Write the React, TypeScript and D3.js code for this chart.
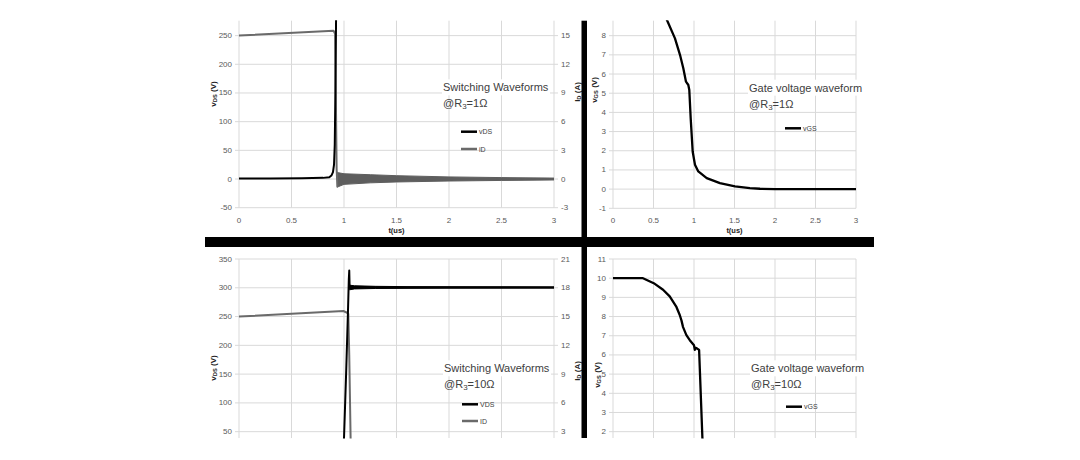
import * as d3 from 'd3';

// shared time axis (us)
const timeTicks = [0, 0.5, 1, 1.5, 2, 2.5, 3];

// top left: switching waveforms @ Rg = 1 ohm
const vdsTicks1 = [-50, 0, 50, 100, 150, 200, 250];
const idTicks1 = [-3, 0, 3, 6, 9, 12, 15];
const vds1Time = [0, 0.3, 0.6, 0.8, 0.86, 0.88, 0.895, 0.905, 0.912, 0.918, 0.925, 0.93, 3];
const vds1Volt = [1, 1, 1.2, 2, 3, 6, 12, 25, 60, 150, 290, 300, 300];
const id1Time = [0, 0.9, 0.915, 0.922, 0.93, 0.937];
const id1Amp = [15, 15.52, 15.2, 9, 1, -0.8];
const ring1Time = [0.937, 0.95, 1.0, 1.25, 1.5, 2, 2.5, 3];
const ring1Upper = [0.7, 0.65, 0.55, 0.45, 0.35, 0.22, 0.15, 0.1];
const ring1Lower = [-0.8, -0.78, -0.56, -0.4, -0.31, -0.21, -0.15, -0.1];

// top right: gate voltage @ Rg = 1 ohm
const vgsTicks1 = [-1, 0, 1, 2, 3, 4, 5, 6, 7, 8];
const vgs1Time = [0.6, 0.67, 0.765, 0.827, 0.868, 0.901, 0.93, 0.942, 0.959, 0.984, 1.012, 1.053, 1.157, 1.32, 1.506, 1.69, 1.815, 2.0, 2.5, 3];
const vgs1Volt = [9.4, 8.78, 7.86, 7.0, 6.3, 5.6, 5.43, 5.17, 3.7, 1.95, 1.27, 0.92, 0.57, 0.31, 0.14, 0.05, 0.02, 0, 0, 0];

// bottom left: switching waveforms @ Rg = 10 ohm
const vdsTicks2 = [50, 100, 150, 200, 250, 300, 350];
const idTicks2 = [3, 6, 9, 12, 15, 18, 21];
const vds2Time = [0, 0.9, 0.97, 1.0, 1.02, 1.038, 1.046, 1.05, 1.053, 1.06, 1.5, 3];
const vds2Volt = [2, 4, 15, 38, 150, 260, 315, 330, 305, 301, 300.5, 300.5];
const ring2Time = [1.053, 1.1, 1.3, 1.6, 2, 3];
const ring2Upper = [304.5, 303.5, 302.5, 302, 301.8, 301.5];
const ring2Lower = [296.5, 298, 298.8, 299.2, 299.4, 299.6];
const id2Time = [0, 0.994, 1.03, 1.041, 1.05, 1.063, 1.07, 3];
const id2Amp = [15, 15.58, 15.4, 15.27, 11, 2.3, 0, 0];

// bottom right: gate voltage @ Rg = 10 ohm
const vgsTicks2 = [2, 3, 4, 5, 6, 7, 8, 9, 10, 11];
const vgs2Time = [0, 0.37, 0.503, 0.618, 0.7, 0.783, 0.824, 0.845, 0.865, 0.906, 0.948, 1.0, 1.01, 1.02, 1.04, 1.063, 1.104, 1.2];
const vgs2Volt = [10, 10, 9.74, 9.4, 9.05, 8.5, 8.08, 7.8, 7.45, 7.03, 6.77, 6.5, 6.27, 6.37, 6.33, 6.26, 1.64, 0.5];

const zip = (t: number[], v: number[]): [number, number][] => t.map((x, i) => [x, v[i]]);

const FONT = "'Liberation Sans', Arial, sans-serif";
const GRID = '#d9d9d9';
const TICK = '#595959';

type Box = { x0: number; x1: number; y0: number; y1: number };
type Line = { pts: [number, number][]; right?: boolean; color: string; width: number };
type Band = { t: number[]; hi: number[]; lo: number[]; right?: boolean; color: string };
type Title = { main: string; sub: string; rest: string; x: number; y: number };
type Legend = { label: string; color: string; x: number; y: number };

function SubText({ main, sub, rest, x, y, size, weight, color }: any) {
  return (
    <text
      x={x}
      y={y}
      fontSize={size}
      fontWeight={weight}
      fill={color}
      textAnchor="middle"
      dominantBaseline="central"
      transform={`rotate(-90 ${x} ${y})`}
    >
      <tspan>{main}</tspan>
      <tspan dy={size * 0.3} fontSize={size * 0.72}>{sub}</tspan>
      <tspan dy={-size * 0.3}>{rest}</tspan>
    </text>
  );
}

function Panel(props: {
  id: string;
  box: Box;
  leftDomain: [number, number];
  leftTicks: number[];
  rightDomain?: [number, number];
  rightTicks?: number[];
  showX: boolean;
  leftTitle: Title;
  rightTitle?: Title;
  lines: Line[];
  bands?: Band[];
  legend: Legend[];
}) {
  const { box, leftTicks, rightTicks } = props;
  const x = d3.scaleLinear().domain([0, 3]).range([box.x0, box.x1]);
  const yl = d3.scaleLinear().domain(props.leftDomain).range([box.y1, box.y0]);
  const yr = props.rightDomain ? d3.scaleLinear().domain(props.rightDomain).range([box.y1, box.y0]) : yl;
  const ext = rightTicks ? 4 : 0;

  return (
    <g>
      <defs>
        <clipPath id={props.id}>
          <rect x={box.x0} y={box.y0 - 0.5} width={box.x1 - box.x0} height={box.y1 - box.y0 + 1} />
        </clipPath>
      </defs>
      {/* grid */}
      {leftTicks.map((t) => (
        <line key={'h' + t} x1={box.x0 - 4} x2={box.x1 + ext} y1={yl(t)} y2={yl(t)} stroke={GRID} strokeWidth={1} />
      ))}
      {timeTicks.map((t) => (
        <line key={'v' + t} x1={x(t)} x2={x(t)} y1={box.y0} y2={box.y1} stroke={GRID} strokeWidth={1} />
      ))}
      {/* tick labels */}
      {leftTicks.map((t) => (
        <text key={'l' + t} x={box.x0 - 7} y={yl(t)} fontSize={8} fill={TICK} textAnchor="end" dominantBaseline="central">
          {t}
        </text>
      ))}
      {rightTicks &&
        rightTicks.map((t) => (
          <text key={'r' + t} x={box.x1 + 7} y={yr(t)} fontSize={8} fill={TICK} dominantBaseline="central">
            {t}
          </text>
        ))}
      {props.showX &&
        timeTicks.map((t) => (
          <text key={'x' + t} x={x(t)} y={box.y1 + 12.5} fontSize={8} fill={TICK} textAnchor="middle" dominantBaseline="central">
            {t}
          </text>
        ))}
      {props.showX && (
        <text x={(box.x0 + box.x1) / 2} y={box.y1 + 22.5} fontSize={7.5} fontWeight="bold" fill="#222" textAnchor="middle" dominantBaseline="central">
          t(us)
        </text>
      )}
      <SubText {...props.leftTitle} size={8} weight="bold" color="#222" />
      {props.rightTitle && <SubText {...props.rightTitle} size={8} weight="bold" color="#222" />}
      {/* data */}
      <g clipPath={`url(#${props.id})`}>
        {(props.bands || []).map((b, i) => {
          const ys = b.right ? yr : yl;
          const area = d3
            .area<number>()
            .x((_, j) => x(b.t[j]))
            .y0((_, j) => ys(b.lo[j]))
            .y1((_, j) => ys(b.hi[j]));
          return <path key={'b' + i} d={area(b.t) || ''} fill={b.color} stroke={b.color} strokeWidth={1} />;
        })}
        {props.lines.map((l, i) => {
          const ys = l.right ? yr : yl;
          const line = d3
            .line<[number, number]>()
            .x((d) => x(d[0]))
            .y((d) => ys(d[1]));
          return (
            <path key={'s' + i} d={line(l.pts) || ''} fill="none" stroke={l.color} strokeWidth={l.width} strokeLinejoin="round" strokeLinecap="round" />
          );
        })}
      </g>
      {/* legend */}
      {props.legend.map((e) => (
        <g key={e.label}>
          <line x1={e.x} x2={e.x + 16} y1={e.y} y2={e.y} stroke={e.color} strokeWidth={2.5} />
          <text x={e.x + 18} y={e.y} fontSize={7} fill="#404040" dominantBaseline="central">
            {e.label}
          </text>
        </g>
      ))}
    </g>
  );
}

// the text box written on top of each plot
function Note({ x, y, heading, rg, w }: { x: number; y: number; heading: string; rg: string; w: number }) {
  return (
    <g fill="#404040" fontSize={11}>
      <rect x={x - 1} y={y - 8} width={w} height={16} fill="#fff" />
      <text x={x} y={y} dominantBaseline="central">{heading}</text>
      <text x={x} y={y + 16} dominantBaseline="central">
        <tspan>@R</tspan>
        <tspan dy={3} fontSize={8}>3</tspan>
        <tspan dy={-3}>={rg}</tspan>
      </text>
    </g>
  );
}

const App = () => {
  const boxTL = { x0: 239, x1: 554, y0: 20.7, y1: 207.7 };
  const boxTR = { x0: 613, x1: 856, y0: 20.7, y1: 208.3 };
  const boxBL = { x0: 239, x1: 554, y0: 259, y1: 438 };
  const boxBR = { x0: 613, x1: 856, y0: 259, y1: 438 };

  return (
    <svg width={1080} height={460} style={{ position: 'absolute', left: 0, top: 0, background: '#fff', fontFamily: FONT }}>
      <Panel
        id="clipTL"
        box={boxTL}
        leftDomain={[-50, 276]}
        leftTicks={vdsTicks1}
        rightDomain={[-3, 16.56]}
        rightTicks={idTicks1}
        showX
        leftTitle={{ main: 'v', sub: 'DS', rest: ' (V)', x: 213, y: 94 }}
        rightTitle={{ main: 'I', sub: 'D', rest: ' (A)', x: 577, y: 92 }}
        bands={[{ t: ring1Time, hi: ring1Upper, lo: ring1Lower, right: true, color: '#5e5e5e' }]}
        lines={[
          { pts: zip(id1Time, id1Amp), right: true, color: '#6a6a6a', width: 2 },
          { pts: zip(vds1Time, vds1Volt), color: '#000', width: 2 },
        ]}
        legend={[
          { label: 'vDS', color: '#000', x: 461, y: 131.7 },
          { label: 'iD', color: '#6a6a6a', x: 461, y: 149 },
        ]}
      />
      <Note x={443} y={87.3} heading="Switching Waveforms" rg="1Ω" w={108} />
      <Panel
        id="clipTR"
        box={boxTR}
        leftDomain={[-1, 8.78]}
        leftTicks={vgsTicks1}
        showX
        leftTitle={{ main: 'v', sub: 'GS', rest: ' (V)', x: 594, y: 90 }}
        lines={[{ pts: zip(vgs1Time, vgs1Volt), color: '#000', width: 2.3 }]}
        legend={[{ label: 'vGS', color: '#000', x: 785, y: 128.3 }]}
      />
      <Note x={749} y={87.7} heading="Gate voltage waveform" rg="1Ω" w={116} />
      <Panel
        id="clipBL"
        box={boxBL}
        leftDomain={[39, 350]}
        leftTicks={vdsTicks2}
        rightDomain={[2.34, 21]}
        rightTicks={idTicks2}
        showX={false}
        leftTitle={{ main: 'v', sub: 'DS', rest: ' (V)', x: 213, y: 368 }}
        rightTitle={{ main: 'I', sub: 'D', rest: ' (A)', x: 577, y: 371 }}
        bands={[{ t: ring2Time, hi: ring2Upper, lo: ring2Lower, color: '#000' }]}
        lines={[
          { pts: zip(id2Time, id2Amp), right: true, color: '#6a6a6a', width: 2 },
          { pts: zip(vds2Time, vds2Volt), color: '#000', width: 2 },
        ]}
        legend={[
          { label: 'VDS', color: '#000', x: 462, y: 404.3 },
          { label: 'ID', color: '#6a6a6a', x: 462, y: 421 },
        ]}
      />
      <Note x={444} y={368.3} heading="Switching Waveforms" rg="10Ω" w={108} />
      <Panel
        id="clipBR"
        box={boxBR}
        leftDomain={[1.67, 11]}
        leftTicks={vgsTicks2}
        showX={false}
        leftTitle={{ main: 'v', sub: 'GS', rest: ' (V)', x: 597, y: 375 }}
        lines={[{ pts: zip(vgs2Time, vgs2Volt), color: '#000', width: 2.3 }]}
        legend={[{ label: 'vGS', color: '#000', x: 786, y: 406.7 }]}
      />
      <Note x={751} y={368.3} heading="Gate voltage waveform" rg="10Ω" w={116} />
      {/* black separators between the four plots */}
      <rect x={205} y={237} width={669} height={10} fill="#000" />
      <rect x={581.5} y={20.7} width={5.5} height={417.3} fill="#000" />
    </svg>
  );
};

export default App;
